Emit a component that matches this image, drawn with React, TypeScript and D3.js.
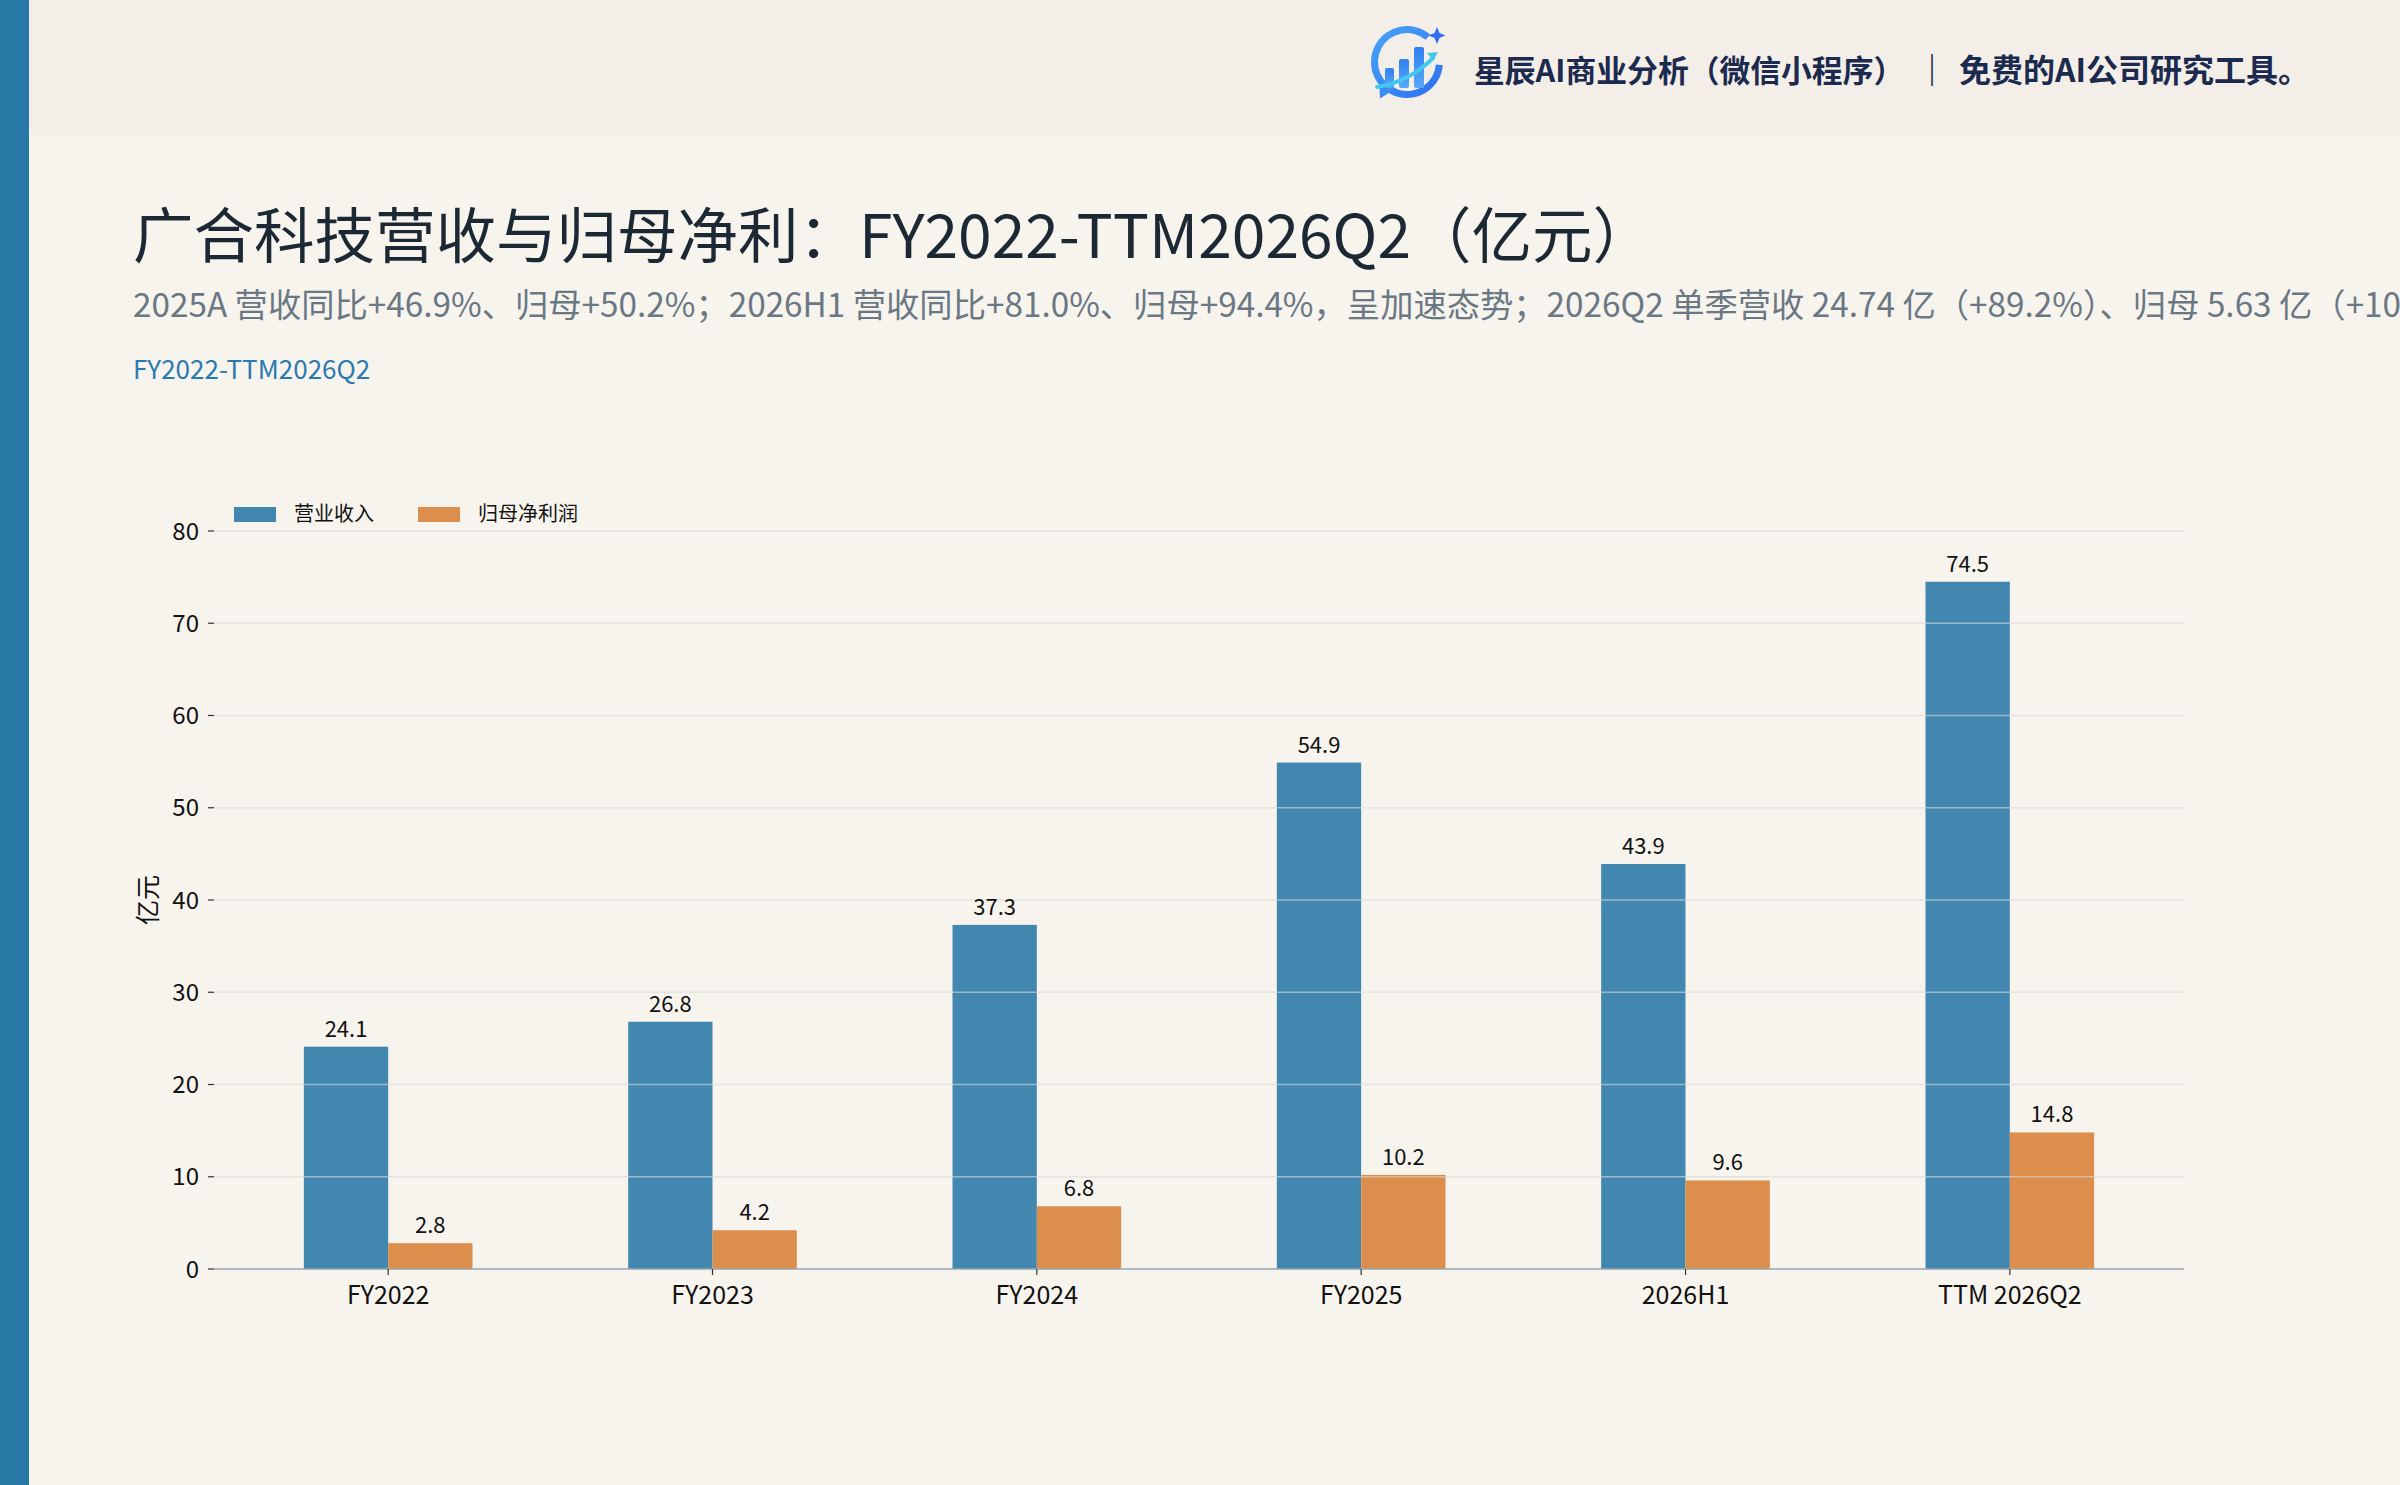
import React from "react";
import * as d3 from "d3";

const categories = ["FY2022", "FY2023", "FY2024", "FY2025", "2026H1", "TTM 2026Q2"];
const revenue = [24.1, 26.8, 37.3, 54.9, 43.9, 74.5];
const netProfit = [2.8, 4.2, 6.8, 10.2, 9.6, 14.8];
const yTicks = [0, 10, 20, 30, 40, 50, 60, 70, 80];
const seriesNames = ["营业收入", "归母净利润"];
const seriesColors = ["#4287b0", "#dc8f4d"];

const titleText = "广合科技营收与归母净利：FY2022-TTM2026Q2（亿元）";
const subtitleText =
  "2025A 营收同比+46.9%、归母+50.2%；2026H1 营收同比+81.0%、归母+94.4%，呈加速态势；2026Q2 单季营收 24.74 亿（+89.2%）、归母 5.63 亿（+103.1%）";
const rangeText = "FY2022-TTM2026Q2";
const brandLeft = "星辰AI商业分析（微信小程序）";
const brandRight = "免费的AI公司研究工具。";

const W = 2400;
const H = 1485;
const FONT = "'Noto Sans CJK SC', 'Noto Sans', sans-serif";

export default function App() {
  const plot = { left: 214, right: 2184, top: 531, bottom: 1269 };
  const x = d3
    .scaleBand<string>()
    .domain(categories)
    .range([plot.left, plot.right])
    .paddingInner(0)
    .paddingOuter(0.037);
  const step = x.step();
  const barW = step * 0.26;
  const y = d3.scaleLinear().domain([0, 80]).range([plot.bottom, plot.top]);
  const cx = (c: string) => (x(c) as number) + x.bandwidth() / 2;

  const series = [revenue, netProfit];

  // logo geometry
  const lx = 1407, ly = 62, lr = 36;
  const arc = d3.arc();
  const ringPath = arc({
    innerRadius: lr - 7,
    outerRadius: lr,
    startAngle: (95 * Math.PI) / 180,
    endAngle: (400 * Math.PI) / 180,
    cornerRadius: 3,
  } as any) as string;
  const arrowAng = (218 * Math.PI) / 180;
  const ax = lx + Math.sin(arrowAng) * (lr - 3.5);
  const ay = ly - Math.cos(arrowAng) * (lr - 3.5);

  return (
    <svg
      width={W}
      height={H}
      viewBox={`0 0 ${W} ${H}`}
      style={{ position: "absolute", left: 0, top: 0, display: "block" }}
      fontFamily={FONT}
    >
      <defs>
        <linearGradient id="logoGrad" x1="0" y1="0" x2="1" y2="1">
          <stop offset="0%" stopColor="#4aa6f7" />
          <stop offset="100%" stopColor="#2a6ff0" />
        </linearGradient>
        <linearGradient id="barGrad" x1="0" y1="0" x2="0" y2="1">
          <stop offset="0%" stopColor="#2f80f2" />
          <stop offset="100%" stopColor="#5aa8f8" />
        </linearGradient>
      </defs>
      <rect x={0} y={0} width={W} height={H} fill="#f7f4ee" />
      <rect x={0} y={0} width={W} height={135} fill="#f3efe8" />
      <rect x={0} y={0} width={29} height={H} fill="#2878a5" />

      {/* logo */}
      <g>
        <path d={ringPath} transform={`translate(${lx},${ly})`} fill="url(#logoGrad)" />
        <path
          d={`M${ax - 8},${ay - 9} L${ax + 9},${ay + 1} L${ax - 7},${ay + 11} Z`}
          fill="#3b8df4"
        />
        <path
          d={`M${lx + 30},${ly - 35} l2.5,6 l6,2.5 l-6,2.5 l-2.5,6 l-2.5,-6 l-6,-2.5 l6,-2.5 z`}
          fill="#2f6ff0"
        />
        <rect x={lx - 22} y={ly + 6} width={9} height={20} rx={2} fill="url(#barGrad)" />
        <rect x={lx - 8} y={ly - 3} width={10} height={29} rx={2} fill="url(#barGrad)" />
        <rect x={lx + 7} y={ly - 15} width={10} height={41} rx={2} fill="url(#barGrad)" />
        <path
          d={`M${lx - 30},${ly + 25} Q${lx + 2},${ly + 20} ${lx + 26},${ly - 4}`}
          stroke="#45c8f0"
          strokeWidth={4}
          fill="none"
          strokeLinecap="round"
        />
        <path d={`M${lx + 31},${ly - 10} l-11,1 l6,8 z`} fill="#45c8f0" />
      </g>

      <text x={1474} y={82} fontSize={30.8} fontWeight={700} fill="#1b2a4e">
        {brandLeft}
      </text>
      <text x={1932} y={82} fontSize={32} fontWeight={700} fill="#1b2a4e" textAnchor="middle">
        ｜
      </text>
      <text x={1959} y={82} fontSize={32} fontWeight={700} fill="#1b2a4e">
        {brandRight}
      </text>

      <text x={133} y={258} fontSize={60.5} fill="#1c2833">
        {titleText}
      </text>
      <text x={133} y={317} fontSize={33.3} fill="#6b7884">
        {subtitleText}
      </text>
      <text x={133} y={379} fontSize={26} fill="#2a7ab0">
        {rangeText}
      </text>

      {/* bars */}
      {series.map((vals, si) =>
        vals.map((v, i) => {
          const c = cx(categories[i]);
          const bx = si === 0 ? c - barW : c;
          return (
            <rect
              key={`b${si}-${i}`}
              x={bx}
              y={y(v)}
              width={barW}
              height={y(0) - y(v)}
              fill={seriesColors[si]}
            />
          );
        })
      )}

      {/* gridlines over bars */}
      {yTicks
        .filter((t) => t !== 0)
        .map((t) => (
          <line
            key={`g${t}`}
            x1={plot.left}
            x2={plot.right}
            y1={y(t)}
            y2={y(t)}
            stroke="#d9d9d9"
            strokeOpacity={0.6}
            strokeWidth={1.5}
          />
        ))}

      {/* bottom spine */}
      <line x1={plot.left} x2={plot.right} y1={y(0)} y2={y(0)} stroke="#9aa6ae" strokeWidth={1.5} />

      {/* y ticks */}
      {yTicks.map((t) => (
        <g key={`yt${t}`}>
          <line x1={plot.left - 6} x2={plot.left} y1={y(t)} y2={y(t)} stroke="#333" strokeWidth={1.2} />
          <text x={plot.left - 15} y={y(t)} dy="0.36em" fontSize={24} textAnchor="end" fill="#111">
            {t}
          </text>
        </g>
      ))}
      <text
        transform={`translate(148,${(plot.top + plot.bottom) / 2}) rotate(-90)`}
        fontSize={25}
        textAnchor="middle"
        dy="0.35em"
        fill="#111"
      >
        亿元
      </text>

      {/* x ticks */}
      {categories.map((c) => (
        <g key={`xt${c}`}>
          <line x1={cx(c)} x2={cx(c)} y1={plot.bottom} y2={plot.bottom + 6} stroke="#333" strokeWidth={1.2} />
          <text x={cx(c)} y={plot.bottom + 35} fontSize={25} textAnchor="middle" fill="#111">
            {c}
          </text>
        </g>
      ))}

      {/* value labels */}
      {series.map((vals, si) =>
        vals.map((v, i) => {
          const c = cx(categories[i]);
          const lxp = si === 0 ? c - barW / 2 : c + barW / 2;
          return (
            <text
              key={`v${si}-${i}`}
              x={lxp}
              y={y(v) - 10}
              fontSize={22}
              textAnchor="middle"
              fill="#111"
            >
              {v.toFixed(1)}
            </text>
          );
        })
      )}

      {/* legend */}
      {seriesNames.map((n, i) => {
        const lx0 = i === 0 ? 234 : 418;
        return (
          <g key={`lg${i}`}>
            <rect x={lx0} y={507} width={42} height={15} fill={seriesColors[i]} />
            <text x={lx0 + 60} y={514} dy="0.36em" fontSize={20} fill="#111">
              {n}
            </text>
          </g>
        );
      })}
    </svg>
  );
}
